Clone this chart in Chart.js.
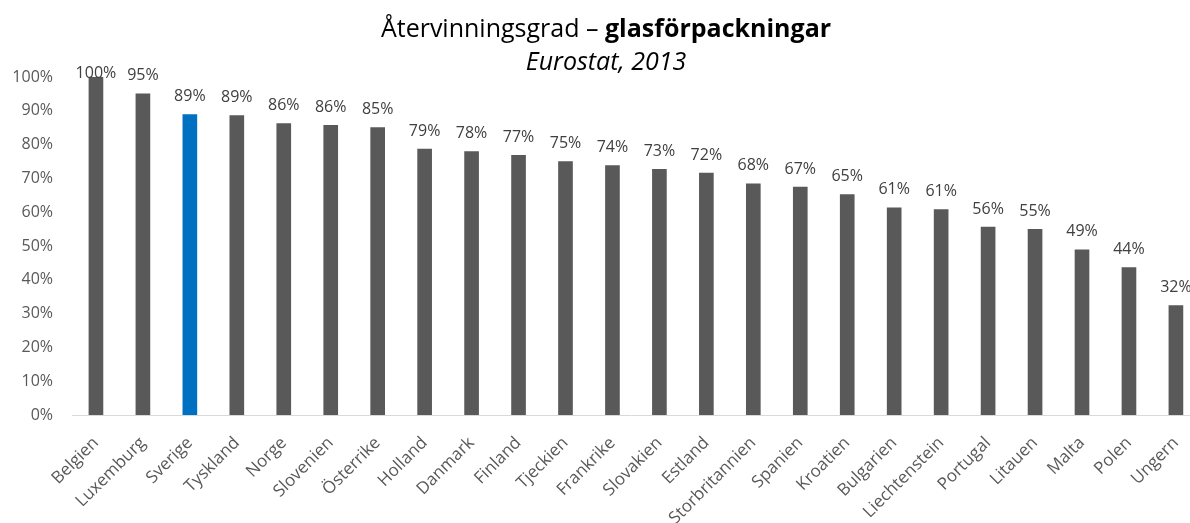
<!DOCTYPE html>
<html>
<head>
<meta charset="utf-8">
<script src="https://cdn.jsdelivr.net/npm/chart.js@4"></script>
<style>
    body { margin: 0; background: #fff; overflow: hidden; }
    #wrap { position: relative; width: 1190px; height: 523px; overflow: hidden; }
    #title {
        position: absolute; left: 0; top: 11px; width: 1190px; box-sizing: border-box;
        padding-left: 22px; text-align: center; font-family: 'Open Sans', sans-serif;
        font-size: 25px; line-height: 33px; color: #000;
    }
</style>
</head>
<body>
<div id="wrap">
    <canvas id="glassChart" width="1190" height="523"></canvas>
    <div id="title">Återvinningsgrad – <b>glasförpackningar</b><br><i>Eurostat, 2013</i></div>
</div>
<script>
const countries = [
    'Belgien', 'Luxemburg', 'Sverige', 'Tyskland', 'Norge', 'Slovenien',
    'Österrike', 'Holland', 'Danmark', 'Finland', 'Tjeckien', 'Frankrike',
    'Slovakien', 'Estland', 'Storbritannien', 'Spanien', 'Kroatien', 'Bulgarien',
    'Liechtenstein', 'Portugal', 'Litauen', 'Malta', 'Polen', 'Ungern'
];
const recyclingRate = [
    100, 95, 88.9, 88.6, 86.2, 85.7,
    85.0, 78.7, 77.9, 76.8, 75.0, 73.8,
    72.7, 71.6, 68.4, 67.4, 65.2, 61.3,
    60.8, 55.6, 54.9, 48.9, 43.6, 32.4
];
const yTicks = [0, 10, 20, 30, 40, 50, 60, 70, 80, 90, 100];

const highlight = 'Sverige';

// value labels above the bars
const barLabels = {
    id: 'barLabels',
    afterDatasetsDraw(chart) {
        const ctx = chart.ctx;
        const meta = chart.getDatasetMeta(0);
        ctx.save();
        ctx.font = '16px "Open Sans", sans-serif';
        ctx.fillStyle = '#404040';
        ctx.textAlign = 'center';
        ctx.textBaseline = 'bottom';
        meta.data.forEach((bar, i) => {
            const y = Math.max(bar.y - 10, chart.chartArea.top + 4);
            ctx.fillText(Math.round(recyclingRate[i]) + '%', bar.x, y);
        });
        ctx.restore();
    }
};

new Chart(document.getElementById('glassChart'), {
    type: 'bar',
    data: {
        datasets: [{
            data: recyclingRate.map((v, i) => ({ x: i, y: v })),
            backgroundColor: countries.map(c => c === highlight ? '#0070C0' : '#595959'),
            barThickness: 14
        }]
    },
    options: {
        responsive: false,
        animation: false,
        layout: { padding: { top: 77, right: 0, left: 0, bottom: 0 } },
        scales: {
            x: {
                type: 'linear',
                offset: false,
                // the original picture is cropped just past the last bar
                min: -0.51,
                max: 23.3,
                afterBuildTicks(scale) { scale.ticks = countries.map((c, i) => ({ value: i })); },
                grid: { display: false, drawTicks: false, offset: false },
                border: { display: true, color: '#d9d9d9', width: 1 },
                ticks: {
                    minRotation: 45,
                    maxRotation: 45,
                    autoSkip: false,
                    padding: 18,
                    color: '#595959',
                    font: { family: 'Open Sans', size: 17 },
                    callback: v => countries[v]
                },
                afterFit(scale) {
                    scale.height = 108;
                    scale.paddingLeft = 0;
                    scale.paddingRight = 0;
                }
            },
            y: {
                min: 0,
                max: 100,
                afterBuildTicks(scale) { scale.ticks = yTicks.map(v => ({ value: v })); },
                grid: { display: false, drawTicks: false },
                border: { display: false },
                ticks: {
                    padding: 19,
                    color: '#595959',
                    font: { family: 'Open Sans', size: 16 },
                    callback: v => v + '%'
                },
                afterFit(scale) {
                    scale.width = 72;
                    scale.paddingTop = 0;
                    scale.paddingBottom = 0;
                }
            }
        },
        plugins: {
            legend: { display: false },
            tooltip: { enabled: false }
        }
    },
    plugins: [barLabels]
});
</script>
</body>
</html>
